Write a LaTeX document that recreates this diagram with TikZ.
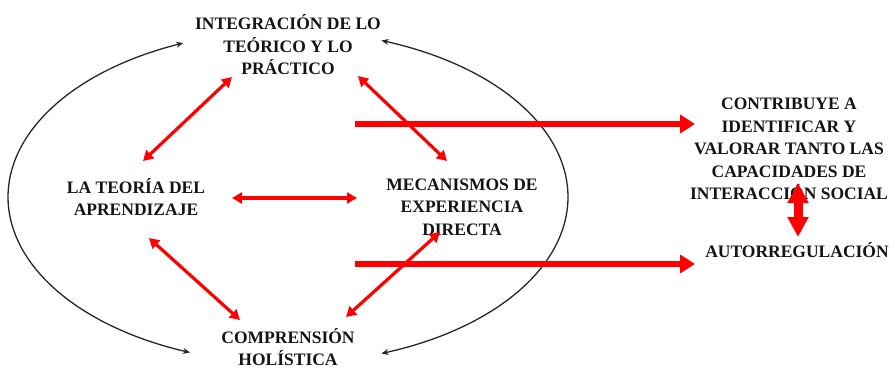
\documentclass[tikz,border=0pt]{standalone}
\usepackage{fontspec}
\setmainfont{Liberation Serif}
\usetikzlibrary{arrows.meta}
\begin{document}
\begin{tikzpicture}[x=1pt,y=-1pt,
  lbl/.style={font=\fontsize{17.5}{22.5}\selectfont\bfseries, text=black!92, align=center, inner sep=0pt},
  redlink/.style={draw=red, line width=3.2pt, {Triangle[length=10pt,width=11pt]}-{Triangle[length=10pt,width=11pt]}},
  bigarrow/.style={draw=red, line width=6.5pt, -{Triangle[length=15pt,width=18pt]}},
  vertarrow/.style={draw=red, line width=9pt, {Triangle[length=20pt,width=20pt]}-{Triangle[length=20pt,width=20pt]}},
  looparc/.style={draw=black!85, line width=1.3pt, {Stealth[length=7pt,width=6pt]}-{Stealth[length=7pt,width=6pt]}}
]
\useasboundingbox (0,0) rectangle (895,369);

% nodes
\node[lbl] (integ) at (288,45) {INTEGRACIÓN DE LO\\TEÓRICO Y LO\\PRÁCTICO};
\node[lbl] (teoria) at (136,197) {LA TEORÍA DEL\\APRENDIZAJE};
\node[lbl] (mecan) at (462,207) {MECANISMOS DE\\EXPERIENCIA\\DIRECTA};
\node[lbl] (compr) at (288,347) {COMPRENSIÓN\\HOLÍSTICA};
\node[lbl] (contrib) at (789,149) {CONTRIBUYE A\\IDENTIFICAR Y\\VALORAR TANTO LAS\\CAPACIDADES DE\\INTERACCIÓN SOCIAL};
\node[lbl] (autor) at (797,250) {AUTORREGULACIÓN};

% endpoints of connectors
\coordinate (a1) at (232,77);  \coordinate (a2) at (143,161);
\coordinate (b1) at (358,76);  \coordinate (b2) at (447,161);
\coordinate (c1) at (232,198); \coordinate (c2) at (357,198);
\coordinate (d1) at (149,238); \coordinate (d2) at (240,320);
\coordinate (e1) at (440,232); \coordinate (e2) at (346,317);
\coordinate (f1) at (355,124); \coordinate (f2) at (695,124);
\coordinate (g1) at (355,264); \coordinate (g2) at (695,264);
\coordinate (h1) at (798,183); \coordinate (h2) at (798,237);

% ellipse arcs
\draw[looparc] plot[domain=112:249.5,samples=90,smooth] ({288+280*cos(\x)},{197-166*sin(\x)});
\draw[looparc] plot[domain=70.5:-70.5,samples=90,smooth] ({288+280*cos(\x)},{197-166*sin(\x)});

% red links
\draw[redlink] (a1) -- (a2);
\draw[redlink] (b1) -- (b2);
\draw[redlink] (c1) -- (c2);
\draw[redlink] (d1) -- (d2);
\draw[redlink] (e1) -- (e2);
\draw[bigarrow] (f1) -- (f2);
\draw[bigarrow] (g1) -- (g2);
\draw[vertarrow] (h1) -- (h2);
\end{tikzpicture}
\end{document}
